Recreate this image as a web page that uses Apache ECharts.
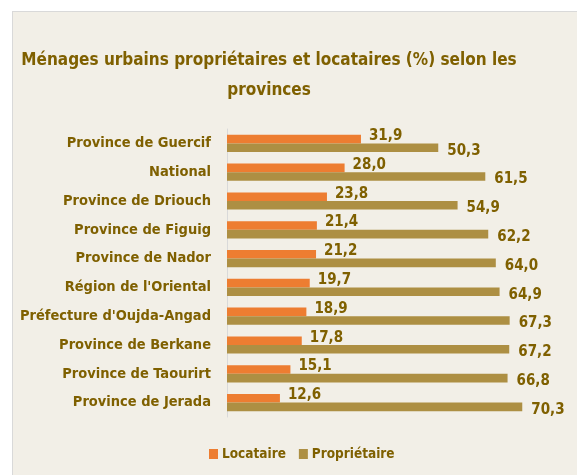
<!DOCTYPE html>
<html>
<head>
<meta charset="utf-8">
<script src="https://cdn.jsdelivr.net/npm/echarts@6/dist/echarts.min.js"></script>
<style>
    html, body { margin: 0; padding: 0; background: #ffffff; }
    #chart {
        position: absolute; left: 12px; top: 11px;
        width: 564px; height: 463px;
        background: #f2efe7;
        border-top: 1px solid #d9d9d9;
        border-left: 1px solid #d9d9d9;
    }
</style>
</head>
<body>
<div id="chart"></div>
<script>
    // provinces, de haut en bas
    var provinces = ['Province de Guercif', 'National', 'Province de Driouch', 'Province de Figuig',
        'Province de Nador', "Région de l'Oriental", "Préfecture d'Oujda-Angad", 'Province de Berkane',
        'Province de Taourirt', 'Province de Jerada']
    var locataire = [31.9, 28.0, 23.8, 21.4, 21.2, 19.7, 18.9, 17.8, 15.1, 12.6]
    var proprietaire = [50.3, 61.5, 54.9, 62.2, 64.0, 64.9, 67.3, 67.2, 66.8, 70.3]

    var fontNarrow = '"DejaVu Sans Condensed", "Liberation Sans", sans-serif'
    var textColor = '#7f6000'

    var chart = echarts.init(document.getElementById('chart'))
    var labelFmt = function (p) {
        return p.value.toFixed(1).replace('.', ',')
    }
    var option = {
        animation: false,
        title: {
            text: 'Ménages urbains propriétaires et locataires (%) selon les\nprovinces',
            left: 251,
            top: 29,
            textAlign: 'center',
            textStyle: {
                fontFamily: fontNarrow,
                fontSize: 17,
                fontWeight: 'bold',
                color: textColor,
                lineHeight: 30
            }
        },
        legend: {
            data: ['Locataire', 'Propriétaire'],
            top: 430,
            left: 191,
            itemWidth: 9,
            itemHeight: 10,
            itemGap: 13,
            icon: 'rect',
            textStyle: {
                fontFamily: fontNarrow,
                fontSize: 13.5,
                fontWeight: 'bold',
                color: textColor,
                padding: [0, 0, 0, -1]
            }
        },
        grid: {
            left: 214,
            top: 117,
            width: 336,
            height: 288,
            outerBoundsMode: 'none'
        },
        xAxis: {
            type: 'value',
            min: 0,
            max: 80,
            show: false
        },
        yAxis: {
            type: 'category',
            inverse: true,
            data: provinces,
            axisLine: { lineStyle: { color: '#d9d9d9', width: 1 } },
            axisTick: { show: false },
            axisLabel: {
                margin: 16,
                fontFamily: fontNarrow,
                fontSize: 14.5,
                fontWeight: 'bold',
                color: textColor
            }
        },
        series: [
            {
                name: 'Locataire',
                type: 'bar',
                data: locataire,
                barWidth: 8.6,
                barGap: '0%',
                itemStyle: { color: '#ed7d31' },
                label: {
                    show: true,
                    position: 'right',
                    distance: 8,
                    offset: [0, -3],
                    formatter: labelFmt,
                    fontFamily: fontNarrow,
                    fontSize: 15,
                    fontWeight: 'bold',
                    color: textColor
                }
            },
            {
                name: 'Propriétaire',
                type: 'bar',
                data: proprietaire,
                barWidth: 8.6,
                itemStyle: { color: '#ad8f43' },
                label: {
                    show: true,
                    position: 'right',
                    distance: 9,
                    offset: [0, 3],
                    formatter: labelFmt,
                    fontFamily: fontNarrow,
                    fontSize: 15,
                    fontWeight: 'bold',
                    color: textColor
                }
            }
        ]
    }
    chart.setOption(option)
</script>
</body>
</html>
